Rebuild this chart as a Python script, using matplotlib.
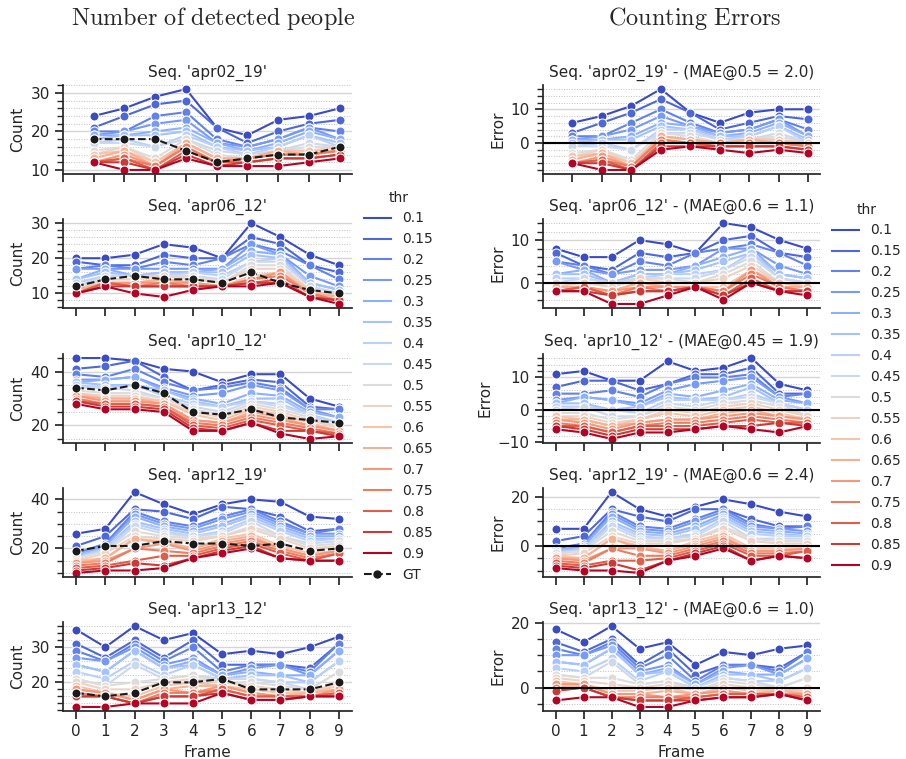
import matplotlib
matplotlib.use('Agg')
import matplotlib.pyplot as plt
from matplotlib.lines import Line2D
from matplotlib.ticker import AutoMinorLocator
import numpy as np

plt.rcParams['mathtext.fontset'] = 'cm'
plt.rcParams['font.size'] = 11
plt.rcParams['axes.titlesize'] = 11
plt.rcParams['axes.labelsize'] = 11
plt.rcParams['xtick.labelsize'] = 11
plt.rcParams['ytick.labelsize'] = 11
plt.rcParams['axes.edgecolor'] = '.15'
plt.rcParams['axes.linewidth'] = 1.25
plt.rcParams['text.color'] = '.15'
plt.rcParams['axes.labelcolor'] = '.15'
plt.rcParams['xtick.color'] = '.15'
plt.rcParams['ytick.color'] = '.15'
plt.rcParams['xtick.major.size'] = 6
plt.rcParams['ytick.major.size'] = 6
plt.rcParams['xtick.major.width'] = 1.25
plt.rcParams['ytick.major.width'] = 1.25
plt.rcParams['ytick.minor.size'] = 4
plt.rcParams['ytick.minor.width'] = 1

nan = np.nan
frames = list(range(10))
thresholds = ['0.1', '0.15', '0.2', '0.25', '0.3', '0.35', '0.4', '0.45', '0.5',
              '0.55', '0.6', '0.65', '0.7', '0.75', '0.8', '0.85', '0.9']
sequences = ['apr02_19', 'apr06_12', 'apr10_12', 'apr12_19', 'apr13_12']
best_thr = ['0.5', '0.6', '0.45', '0.6', '0.6']
best_mae = [2.0, 1.1, 1.9, 2.4, 1.0]

# ground truth people per frame
gt_apr02_19 = [nan, 18, 18, 18, 15, 12, 13, 14, 14, 16]
gt_apr06_12 = [12, 14, 15, 14, 14, 13, 16, 13, 11, 10]
gt_apr10_12 = [34, 33, 35, 32, 25, 24, 26, 23, 22, 21]
gt_apr12_19 = [19, 21, 21, 23, 22, 22, 21, 22, 19, 20]
gt_apr13_12 = [17, 16, 17, 20, 20, 21, 18, 18, 18, 20]

# detected people per frame, one row per threshold (0.1 ... 0.9)
count_apr02_19 = [
    [nan, 24, 26, 29, 31, 21, 19, 23, 24, 26],
    [nan, 21, 24, 27, 28, 21, 17, 20, 22, 23],
    [nan, 20, 20, 24, 25, 18, 16, 18, 21, 20],
    [nan, 19, 20, 22, 23, 17, 16, 18, 21, 18],
    [nan, 19, 19, 20, 21, 17, 15, 17, 20, 18],
    [nan, 18, 19, 19, 20, 16, 15, 16, 19, 17],
    [nan, 17, 18, 16, 19, 16, 14, 16, 19, 16],
    [nan, 17, 17, 16, 18, 15, 14, 15, 17, 16],
    [nan, 15, 16, 13, 18, 14, 13, 15, 16, 16],
    [nan, 14, 16, 12, 17, 13, 13, 15, 15, 16],
    [nan, 14, 15, 12, 17, 13, 13, 15, 15, 15],
    [nan, 13, 15, 11, 17, 13, 13, 15, 14, 15],
    [nan, 12, 14, 11, 16, 12, 13, 14, 14, 15],
    [nan, 12, 13, 11, 16, 12, 13, 14, 14, 15],
    [nan, 12, 13, 10, 15, 12, 12, 13, 13, 14],
    [nan, 12, 12, 10, 14, 11, 12, 13, 13, 14],
    [nan, 12, 10, 10, 13, 11, 11, 11, 12, 13],
]
count_apr06_12 = [
    [20, 20, 21, 24, 23, 20, 30, 26, 21, 18],
    [19, 18, 18, 21, 20, 20, 26, 24, 18, 16],
    [17, 18, 17, 19, 18, 20, 24, 22, 18, 14],
    [17, 17, 17, 17, 17, 17, 24, 21, 15, 12],
    [14, 17, 15, 16, 16, 17, 22, 21, 13, 11],
    [14, 16, 15, 16, 16, 16, 21, 20, 13, 11],
    [13, 15, 15, 15, 16, 15, 19, 20, 12, 10],
    [12, 15, 15, 15, 15, 14, 19, 19, 12, 10],
    [12, 14, 14, 15, 15, 13, 18, 18, 11, 9],
    [11, 14, 14, 15, 14, 13, 17, 17, 11, 9],
    [11, 13, 13, 14, 13, 12, 15, 16, 11, 9],
    [11, 13, 13, 14, 13, 12, 14, 16, 10, 9],
    [10, 13, 13, 13, 13, 12, 14, 16, 10, 8],
    [10, 13, 12, 13, 12, 12, 14, 15, 10, 8],
    [10, 13, 12, 12, 12, 12, 13, 14, 9, 8],
    [10, 12, 12, 12, 12, 12, 13, 13, 9, 8],
    [10, 12, 10, 9, 11, 12, 12, 13, 9, 7],
]
count_apr10_12 = [
    [45, 45, 44, 41, 40, 36, 39, 39, 30, 27],
    [41, 42, 44, 38, 33, 35, 37, 36, 27, 26],
    [39, 38, 41, 36, 33, 34, 36, 34, 26, 26],
    [37, 37, 38, 34, 31, 32, 35, 33, 26, 23],
    [36, 37, 38, 33, 30, 28, 32, 31, 25, 23],
    [36, 35, 35, 33, 29, 27, 30, 30, 24, 21],
    [35, 34, 35, 31, 28, 27, 29, 28, 24, 21],
    [34, 34, 33, 30, 27, 25, 29, 27, 24, 19],
    [33, 32, 32, 30, 26, 24, 28, 26, 23, 19],
    [32, 31, 31, 29, 25, 23, 27, 25, 22, 19],
    [32, 30, 30, 29, 24, 22, 26, 24, 21, 18],
    [31, 30, 30, 28, 22, 21, 25, 23, 20, 18],
    [31, 29, 29, 28, 22, 21, 24, 22, 20, 18],
    [30, 28, 28, 27, 21, 20, 23, 21, 19, 17],
    [29, 28, 28, 27, 20, 19, 22, 20, 18, 17],
    [29, 27, 27, 26, 19, 18, 21, 18, 18, 16],
    [28, 26, 26, 25, 18, 18, 21, 17, 15, 16],
]
count_apr12_19 = [
    [26, 28, 43, 38, 34, 38, 40, 39, 33, 32],
    [21, 25, 36, 35, 32, 37, 36, 33, 27, 28],
    [18, 22, 35, 31, 29, 33, 36, 31, 26, 28],
    [17, 21, 34, 30, 28, 32, 35, 30, 26, 26],
    [17, 21, 33, 29, 27, 30, 34, 29, 25, 25],
    [17, 20, 31, 28, 26, 29, 33, 28, 24, 24],
    [16, 20, 30, 27, 25, 27, 32, 27, 23, 24],
    [16, 19, 29, 26, 25, 26, 31, 25, 22, 23],
    [16, 19, 27, 25, 24, 25, 29, 25, 21, 22],
    [15, 18, 25, 24, 23, 25, 28, 24, 20, 21],
    [15, 16, 24, 23, 20, 24, 26, 21, 18, 19],
    [14, 16, 24, 22, 20, 23, 25, 20, 17, 19],
    [14, 15, 20, 22, 19, 22, 24, 20, 17, 19],
    [13, 14, 20, 19, 18, 21, 23, 19, 16, 18],
    [12, 13, 15, 17, 17, 20, 22, 18, 15, 18],
    [11, 12, 14, 13, 16, 19, 21, 16, 15, 15],
    [10, 11, 11, 12, 16, 18, 20, 16, 15, 15],
]
count_apr13_12 = [
    [35, 30, 36, 32, 34, 28, 29, 28, 30, 33],
    [31, 27, 32, 27, 32, 25, 25, 25, 24, 31],
    [29, 26, 31, 26, 30, 23, 25, 25, 23, 31],
    [27, 26, 30, 25, 27, 22, 24, 25, 22, 29],
    [25, 23, 29, 24, 26, 22, 23, 22, 22, 29],
    [25, 23, 29, 24, 25, 21, 22, 22, 20, 26],
    [23, 21, 26, 22, 25, 21, 21, 20, 20, 26],
    [21, 19, 25, 21, 22, 21, 21, 20, 18, 23],
    [21, 19, 20, 21, 22, 20, 20, 19, 18, 23],
    [20, 18, 18, 20, 21, 20, 19, 18, 17, 20],
    [19, 17, 16, 19, 20, 19, 18, 17, 17, 19],
    [18, 17, 15, 18, 19, 19, 17, 16, 17, 18],
    [18, 17, 15, 18, 17, 19, 17, 16, 16, 18],
    [17, 16, 14, 17, 17, 18, 16, 16, 16, 17],
    [16, 16, 14, 16, 16, 18, 16, 16, 16, 17],
    [16, 16, 14, 16, 16, 17, 15, 15, 16, 16],
    [13, 13, 14, 14, 14, 17, 15, 15, 16, 16],
]

gts = [gt_apr02_19, gt_apr06_12, gt_apr10_12, gt_apr12_19, gt_apr13_12]
counts = [count_apr02_19, count_apr06_12, count_apr10_12, count_apr12_19, count_apr13_12]

colors = plt.cm.coolwarm(np.linspace(0, 1, len(thresholds)))

W, H = 906., 759.
fig = plt.figure(figsize=(W / 100, H / 100), dpi=100)

tops = [85, 219, 354, 488, 622]
ax_h = 89


def style(ax, last):
    ax.set_xticks(frames)
    if last:
        ax.set_xlabel('Frame')
    else:
        ax.set_xticklabels([])
    ax.yaxis.set_minor_locator(AutoMinorLocator())
    ax.grid(axis='y', which='major', color='#d5d5d5', lw=1.0)
    ax.grid(axis='y', which='minor', color='#c0c0c0', ls=':', lw=0.7)
    ax.set_axisbelow(True)
    ax.spines['top'].set_visible(False)
    ax.spines['right'].set_visible(False)


for i, seq in enumerate(sequences):
    bottom = 1 - (tops[i] + ax_h) / H
    axl = fig.add_axes([63 / W, bottom, 289 / W, ax_h / H])
    axr = fig.add_axes([543 / W, bottom, 277 / W, ax_h / H])
    gt = np.array(gts[i], dtype=float)
    for j, thr in enumerate(thresholds):
        c = np.array(counts[i][j], dtype=float)
        axl.plot(frames, c, color=colors[j], lw=1.5, marker='o', ms=6.5, mec='w', mew=0.75)
        axr.plot(frames, c - gt, color=colors[j], lw=1.5, marker='o', ms=6.5, mec='w', mew=0.75)
    axl.plot(frames, gt, color='.1', lw=1.5, ls='--', marker='o', ms=6.5, mec='w', mew=0.75)
    axr.axhline(0, color='k', lw=1.5, zorder=3)
    axl.set_title("Seq. '%s'" % seq)
    axr.set_title("Seq. '%s' - (MAE@%s = %.1f)" % (seq, best_thr[i], best_mae[i]))
    axl.set_ylabel('Count')
    axr.set_ylabel('Error')
    style(axl, i == len(sequences) - 1)
    style(axr, i == len(sequences) - 1)

fig.text(213 / W, 1 - 18 / H, r'$\mathrm{Number\ of\ detected\ people}$', fontsize=17.5,
         ha='center', va='center')
fig.text(695 / W, 1 - 18 / H, r'$\mathrm{Counting\ Errors}$', fontsize=17.5,
         ha='center', va='center')

handles = [Line2D([], [], color=colors[j], lw=1.5) for j in range(len(thresholds))]
gt_handle = Line2D([], [], color='.1', lw=1.5, ls='--', marker='o', ms=5)
fig.legend(handles + [gt_handle], thresholds + ['GT'], title='thr', loc='upper left',
           bbox_to_anchor=(351 / W, 1 - 178 / H), frameon=False, fontsize=10,
           title_fontsize=10, labelspacing=0.5)
fig.legend(handles, thresholds, title='thr', loc='upper left',
           bbox_to_anchor=(819 / W, 1 - 190 / H), frameon=False, fontsize=10,
           title_fontsize=10, labelspacing=0.5)

plt.savefig('out.png', dpi=100)
